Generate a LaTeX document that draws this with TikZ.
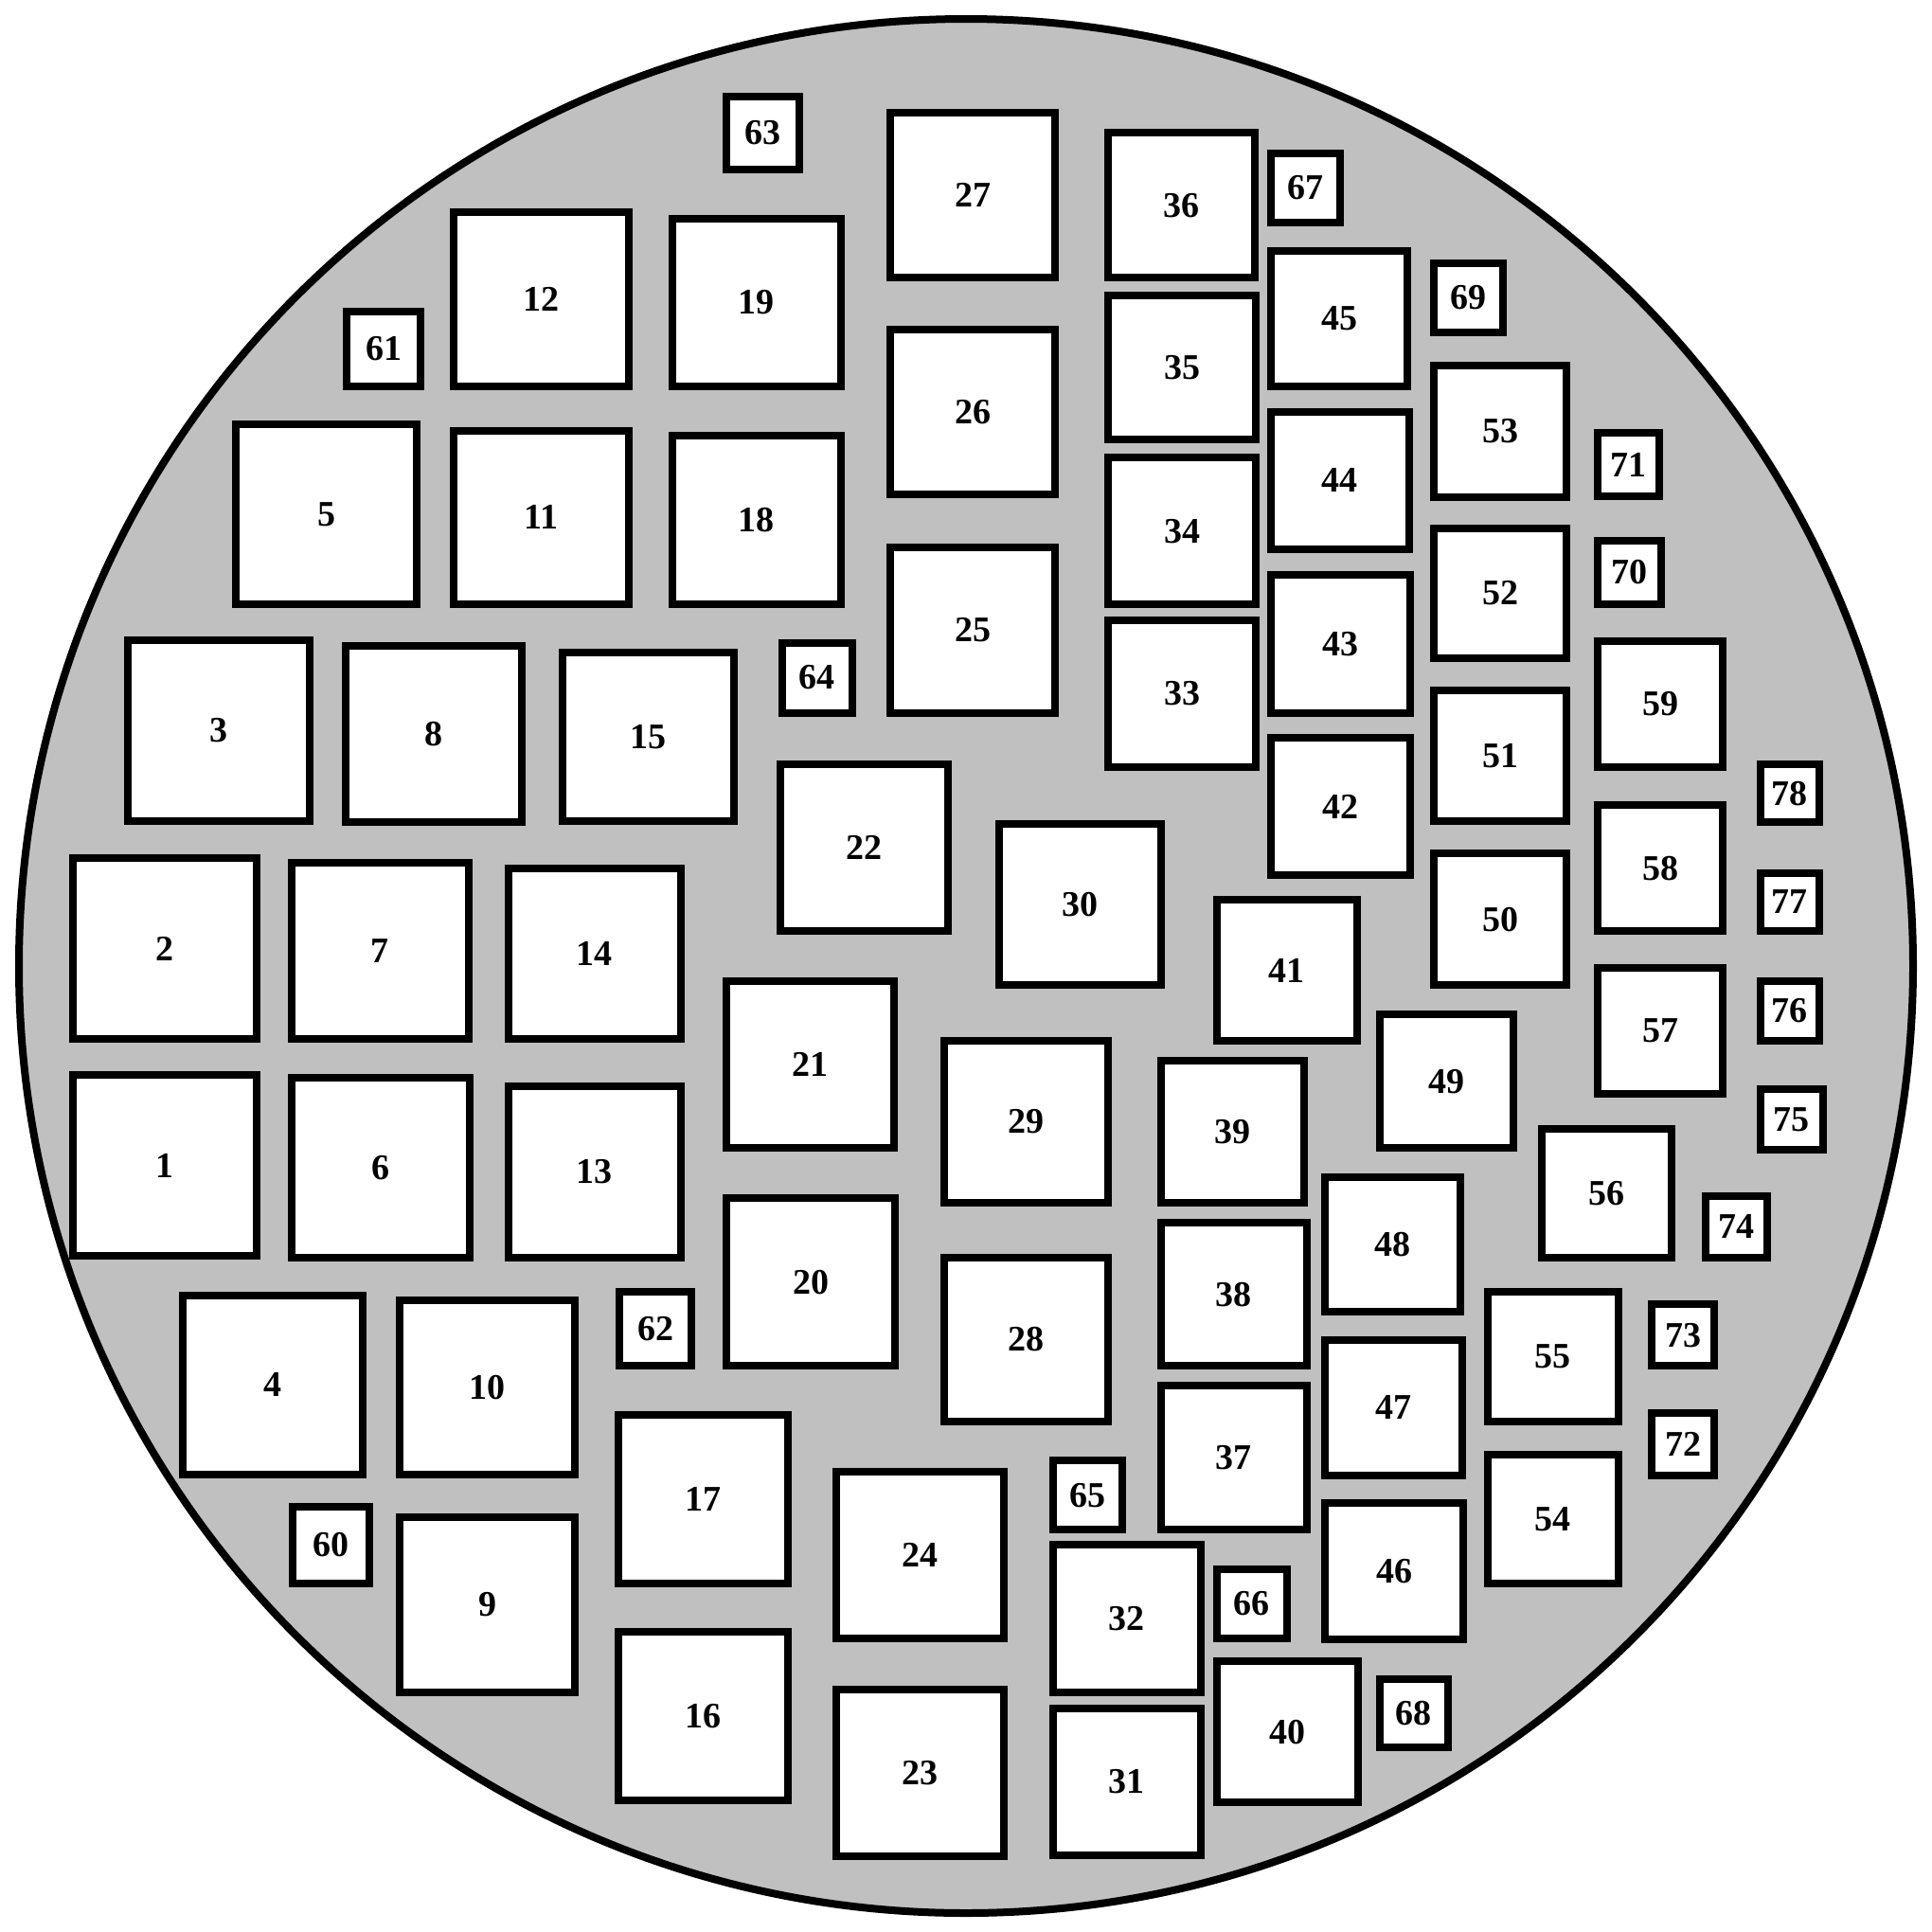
\documentclass[tikz,border=0pt]{standalone}
\usepackage{fontspec}
\setmainfont{Liberation Serif}
\definecolor{bgc}{HTML}{C0C0C0}
\tikzset{fusebox/.style={draw, line width=8pt, fill=white, inner sep=0pt, rectangle,
  font=\bfseries\fontsize{38}{40}\selectfont}}
\newcommand\fuse[5]{\node[fusebox, minimum width={(#4-#2)*1.30102-4}, minimum height={(#5-#3)*1.30102-4}] (b#1) at ({(#2+#4)/2},{(#3+#5)/2}) {#1};}
\begin{document}
\begin{tikzpicture}[x=1.30102pt,y=-1.30102pt]
\fill[white] (0,0) rectangle (1568,1568);
\useasboundingbox (0,0) rectangle (1568,1568);
\draw[line width=8pt, fill=bgc] (784,784) circle[radius=1000pt];
\fuse{1}{58}{871}{210}{1021}
\fuse{2}{58}{695}{210}{845}
\fuse{3}{102}{518}{253}{668}
\fuse{4}{147}{1050}{296}{1198}
\fuse{5}{190}{343}{340}{492}
\fuse{6}{235}{873}{383}{1022}
\fuse{7}{235}{699}{382}{845}
\fuse{8}{279}{523}{425}{669}
\fuse{9}{323}{1230}{468}{1375}
\fuse{10}{323}{1054}{468}{1198}
\fuse{11}{367}{348}{512}{492}
\fuse{12}{367}{171}{512}{315}
\fuse{13}{411}{880}{554}{1022}
\fuse{14}{411}{703}{554}{845}
\fuse{15}{455}{528}{597}{668}
\fuse{16}{500}{1323}{641}{1463}
\fuse{17}{500}{1147}{641}{1287}
\fuse{18}{544}{352}{684}{492}
\fuse{19}{544}{176}{684}{315}
\fuse{20}{588}{971}{728}{1110}
\fuse{21}{588}{795}{727}{933}
\fuse{22}{632}{619}{771}{757}
\fuse{23}{677}{1370}{816}{1508}
\fuse{24}{677}{1193}{816}{1331}
\fuse{25}{721}{443}{858}{580}
\fuse{26}{721}{266}{858}{403}
\fuse{27}{721}{90}{858}{227}
\fuse{28}{765}{1019}{901}{1155}
\fuse{29}{765}{843}{901}{978}
\fuse{30}{809}{667}{944}{801}
\fuse{31}{853}{1385}{976}{1507}
\fuse{32}{853}{1252}{976}{1375}
\fuse{33}{898}{502}{1021}{624}
\fuse{34}{898}{370}{1021}{492}
\fuse{35}{898}{238}{1021}{358}
\fuse{36}{898}{106}{1020}{227}
\fuse{37}{941}{1123}{1062}{1243}
\fuse{38}{941}{991}{1062}{1110}
\fuse{39}{941}{859}{1060}{978}
\fuse{40}{986}{1347}{1104}{1464}
\fuse{41}{986}{729}{1103}{846}
\fuse{42}{1030}{597}{1146}{712}
\fuse{43}{1030}{465}{1146}{580}
\fuse{44}{1030}{333}{1145}{447}
\fuse{45}{1030}{202}{1144}{315}
\fuse{46}{1074}{1218}{1189}{1332}
\fuse{47}{1074}{1086}{1188}{1199}
\fuse{48}{1074}{954}{1187}{1066}
\fuse{49}{1118}{822}{1230}{933}
\fuse{50}{1162}{691}{1273}{801}
\fuse{51}{1162}{559}{1273}{668}
\fuse{52}{1162}{427}{1273}{536}
\fuse{53}{1162}{295}{1273}{405}
\fuse{54}{1206}{1179}{1315}{1287}
\fuse{55}{1206}{1047}{1315}{1155}
\fuse{56}{1250}{915}{1358}{1022}
\fuse{57}{1295}{784}{1400}{889}
\fuse{58}{1295}{652}{1400}{757}
\fuse{59}{1295}{519}{1400}{624}
\fuse{60}{236}{1221}{301}{1287}
\fuse{61}{280}{251}{343}{315}
\fuse{62}{501}{1047}{563}{1110}
\fuse{63}{588}{77}{650}{139}
\fuse{64}{633}{520}{693}{580}
\fuse{65}{853}{1184}{912}{1243}
\fuse{66}{986}{1272}{1046}{1331}
\fuse{67}{1030}{123}{1089}{182}
\fuse{68}{1118}{1361}{1177}{1420}
\fuse{69}{1162}{212}{1221}{271}
\fuse{70}{1295}{437}{1350}{492}
\fuse{71}{1295}{350}{1348}{404}
\fuse{72}{1339}{1145}{1393}{1199}
\fuse{73}{1339}{1057}{1393}{1110}
\fuse{74}{1383}{969}{1436}{1022}
\fuse{75}{1427}{882}{1481}{935}
\fuse{76}{1427}{795}{1478}{846}
\fuse{77}{1427}{707}{1478}{757}
\fuse{78}{1427}{619}{1478}{669}
\end{tikzpicture}
\end{document}
